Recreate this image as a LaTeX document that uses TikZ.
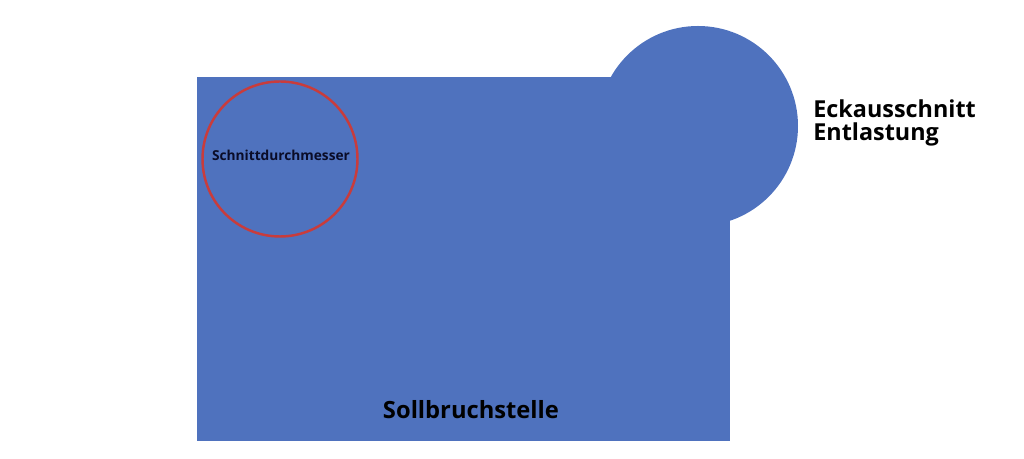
\documentclass[tikz,border=0pt]{standalone}
\usepackage{fontspec}
\setmainfont{Open Sans}
\definecolor{platte}{RGB}{79,114,190}
\definecolor{schnitt}{RGB}{200,60,60}
\definecolor{schrift}{RGB}{10,12,40}

\begin{document}
\begin{tikzpicture}
   \useasboundingbox (0,0) rectangle (20.48,9.18);
   \fill[platte] (3.94,0.36) rectangle (14.6,7.64);
   \fill[platte] (13.96,6.66) circle (2.0);
   \draw[schnitt,line width=1.4pt] (5.6,6.0) circle (1.55);
\node[font=\bfseries\fontsize{7.8}{9}\selectfont,text=schrift] (durchmesser) at (5.62,6.08) {Schnittdurchmesser};
\node[font=\bfseries\fontsize{13.5}{14}\selectfont] (soll) at (9.42,0.98) {Sollbruchstelle};
\node[font=\bfseries\fontsize{13.3}{13}\selectfont,align=left,anchor=west,inner sep=0pt] (eck) at (16.26,6.72) {Eckausschnitt\\Entlastung};
\end{tikzpicture}
\end{document}
